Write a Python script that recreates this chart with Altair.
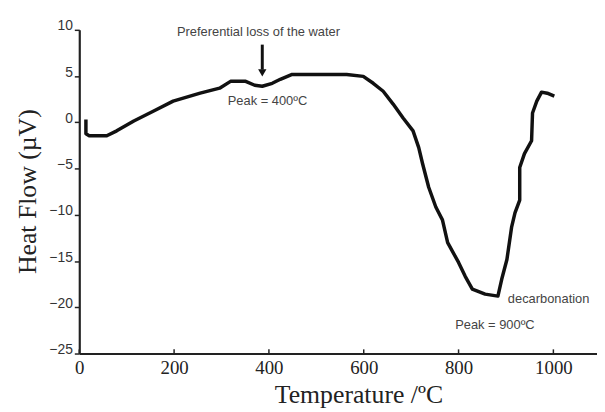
import altair as alt
import pandas as pd

# Curve trace (Temperature °C, Heat flow µV)
temps = [14, 14, 21, 58, 79, 115, 157, 198, 255, 296, 319, 351, 370, 386, 407, 424, 449,
         564, 599, 620, 641, 662, 683, 704, 716, 724, 737, 752, 766, 777, 800, 814, 829,
         856, 883, 891, 902, 912, 919, 929, 929, 939, 954, 956, 965, 975, 987, 1002]
flows = [0.3, -1.24, -1.45, -1.45, -0.92, 0.15, 1.22, 2.29, 3.15, 3.69, 4.43, 4.43, 4.01,
         3.90, 4.22, 4.65, 5.18, 5.18, 4.97, 4.22, 3.36, 1.97, 0.47, -0.92, -2.74, -4.45,
         -7.02, -9.16, -10.55, -13.01, -15.15, -16.65, -18.04, -18.58, -18.79, -16.97,
         -14.83, -11.30, -9.80, -8.41, -4.88, -3.38, -1.99, 1.01, 2.29, 3.26, 3.15, 2.83]

x_ticks = [0, 200, 400, 600, 800, 1000]
y_ticks = [-25, -20, -15, -10, -5, 0, 5, 10]

ann_text = ["Preferential loss of the water", "Peak = 400ºC", "decarbonation", "Peak = 900ºC"]
ann_x = [378, 397, 904, 793]
ann_y = [9.79, 2.29, -19.1, -21.9]
ann_align = ["center", "center", "left", "left"]

arrow_x = [386]
arrow_y1 = [8.4]
arrow_y2 = [5.7]
arrow_head = [5.35]

df = pd.DataFrame({"T": temps, "V": flows, "i": list(range(len(temps)))})
ann = pd.DataFrame({"t": ann_text, "x": ann_x, "y": ann_y, "a": ann_align})
arr = pd.DataFrame({"x": arrow_x, "y1": arrow_y1, "y2": arrow_y2, "h": arrow_head})
tk = pd.DataFrame({"x": x_ticks, "y": [-25] * len(x_ticks), "y2": [-24.55] * len(x_ticks)})

xs = alt.Scale(domain=[0, 1092], nice=False, zero=False)
ys = alt.Scale(domain=[-25, 10], nice=False, zero=False)

xax = alt.Axis(values=x_ticks, format="d", title="Temperature /ºC", grid=False, ticks=False,
               domainColor="#222", domainWidth=2.2,
               labelFont="Liberation Serif", labelFontSize=19, labelColor="#222",
               labelPadding=5, labelFlush=False,
               titleFont="Liberation Serif", titleFontSize=26, titleFontWeight="normal",
               titleColor="#222", titleX=282, titleY=41, titleAlign="center",
               titleBaseline="middle")
yax = alt.Axis(values=y_ticks, title="Heat Flow (µV)", grid=False,
               domainColor="#222", domainWidth=2.2, tickColor="#222", tickSize=5,
               tickWidth=1.5,
               labelFont="Liberation Sans", labelFontSize=14, labelColor="#333",
               labelPadding=2, labelBaseline="alphabetic", labelFlush=False,
               titleFont="Liberation Serif", titleFontSize=26, titleFontWeight="normal",
               titleColor="#222", titleX=-52, titleY=163, titleAngle=270,
               titleAlign="center", titleBaseline="middle")

line = alt.Chart(df).mark_line(color="#111", strokeWidth=3.5, strokeJoin="round").encode(
    x=alt.X("T:Q", scale=xs, axis=xax),
    y=alt.Y("V:Q", scale=ys, axis=yax),
    order="i:Q",
)

xticks = alt.Chart(tk).mark_rule(color="#222", strokeWidth=1.5).encode(
    x=alt.X("x:Q", scale=xs), y=alt.Y("y:Q", scale=ys), y2="y2:Q")

font = "'Liberation Sans Narrow', 'Liberation Sans', sans-serif"
texts = []
for al in ["center", "left"]:
    texts.append(alt.Chart(ann).transform_filter(alt.datum.a == al).mark_text(
        font=font, fontSize=13, color="#444", align=al, baseline="middle").encode(
        x=alt.X("x:Q", scale=xs), y=alt.Y("y:Q", scale=ys), text="t:N"))

shaft = alt.Chart(arr).mark_rule(color="#111", strokeWidth=3).encode(
    x=alt.X("x:Q", scale=xs), y=alt.Y("y1:Q", scale=ys), y2="y2:Q")
head = alt.Chart(arr).mark_point(shape="triangle-down", filled=True, color="#111",
                                 size=70, opacity=1).encode(
    x=alt.X("x:Q", scale=xs), y=alt.Y("h:Q", scale=ys))

chart = alt.layer(line, xticks, shaft, head, *texts).properties(
    width=523, height=327,
    autosize=alt.AutoSizeParams(type="none"),
    padding={"left": 72, "top": 20, "right": 0, "bottom": 56},
    background="white",
).configure_view(stroke=None)

chart.save("out.html", embed_options={"renderer": "svg", "actions": False})
